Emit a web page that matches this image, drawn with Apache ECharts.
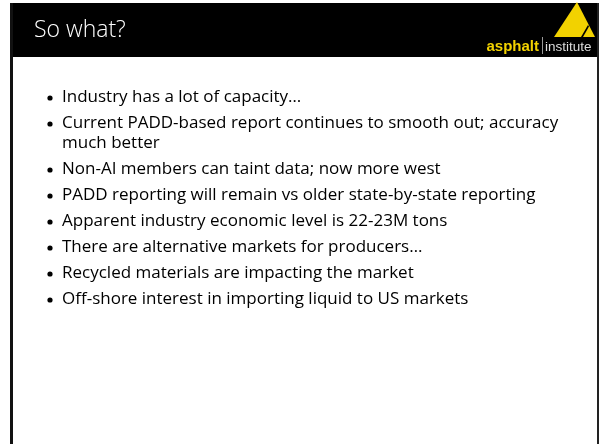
<!DOCTYPE html>
<html>
  <head>
  <meta charset="utf-8">
    <script type="text/javascript" src="https://cdn.jsdelivr.net/npm/echarts@6/dist/echarts.min.js"></script>
    <style>
      body { margin: 0; background: #fff; }
    </style>
  </head>

 <body>
     <div id="main" style="width:600px;height:444px;"></div>
     <script type="text/javascript">
    // slide content
    var slideTitle = 'So what?';
    var bullets = [
        ['Industry has a lot of capacity\u2026'],
        ['Current PADD-based report continues to smooth out; accuracy', 'much better'],
        ['Non-AI members can taint data; now more west'],
        ['PADD reporting will remain vs older state-by-state reporting'],
        ['Apparent industry economic level is 22-23M tons'],
        ['There are alternative markets for producers\u2026'],
        ['Recycled materials are impacting the market'],
        ['Off-shore interest in importing liquid to US markets']
    ];
    var logoWords = ['asphalt', 'institute'];

    var myChart = echarts.init(document.getElementById('main'));
    var yellow = '#f2d200';
    var bodyFont = '"Open Sans", "Noto Sans", sans-serif';

    var elements = [];
    // header bar
    elements.push({ type: 'rect', shape: { x: 10, y: 3, width: 589, height: 54 }, style: { fill: '#000' } });
    // frame sides
    elements.push({ type: 'line', shape: { x1: 11.5, y1: 3, x2: 11.5, y2: 444 }, style: { stroke: '#111', lineWidth: 3 } });
    elements.push({ type: 'line', shape: { x1: 598, y1: 3, x2: 598, y2: 444 }, style: { stroke: '#222', lineWidth: 2 } });
    // title
    elements.push({
        type: 'text', x: 34, y: 30,
        style: { text: slideTitle, fill: '#fff', font: '300 23px ' + bodyFont, textVerticalAlign: 'middle' }
    });

    // logo
    elements.push({ type: 'polygon', shape: { points: [[577, 2], [554, 37], [595, 37]] }, style: { fill: yellow } });
    elements.push({ type: 'polygon', shape: { points: [[588, 25], [581, 37], [583, 37], [589, 26.5]] }, style: { fill: '#000' } });
    elements.push({
        type: 'text', x: 539, y: 47,
        style: { text: logoWords[0], fill: yellow, font: 'bold 15px "Liberation Sans", Arial, sans-serif', textAlign: 'right', textVerticalAlign: 'middle' }
    });
    elements.push({ type: 'line', shape: { x1: 542.5, y1: 37, x2: 542.5, y2: 54 }, style: { stroke: '#999', lineWidth: 1 } });
    elements.push({
        type: 'text', x: 545, y: 47,
        style: { text: logoWords[1], fill: '#ddd', font: '13.5px "Liberation Sans", sans-serif', textVerticalAlign: 'middle' }
    });

    // bullets
    var y = 97;
    bullets.forEach(function (lines) {
        elements.push({ type: 'circle', shape: { cx: 50, cy: y + 1, r: 2.6 }, style: { fill: '#000' } });
        lines.forEach(function (line, j) {
            elements.push({
                type: 'text', x: 62, y: y,
                style: { text: line, fill: '#000', font: '17px ' + bodyFont, textVerticalAlign: 'middle' }
            });
            y += (j < lines.length - 1) ? 20 : 0;
        });
        y += 26;
    });

    myChart.setOption({
        animation: false,
        graphic: { elements: elements }
    });
    </script>

  </body>
</html>
